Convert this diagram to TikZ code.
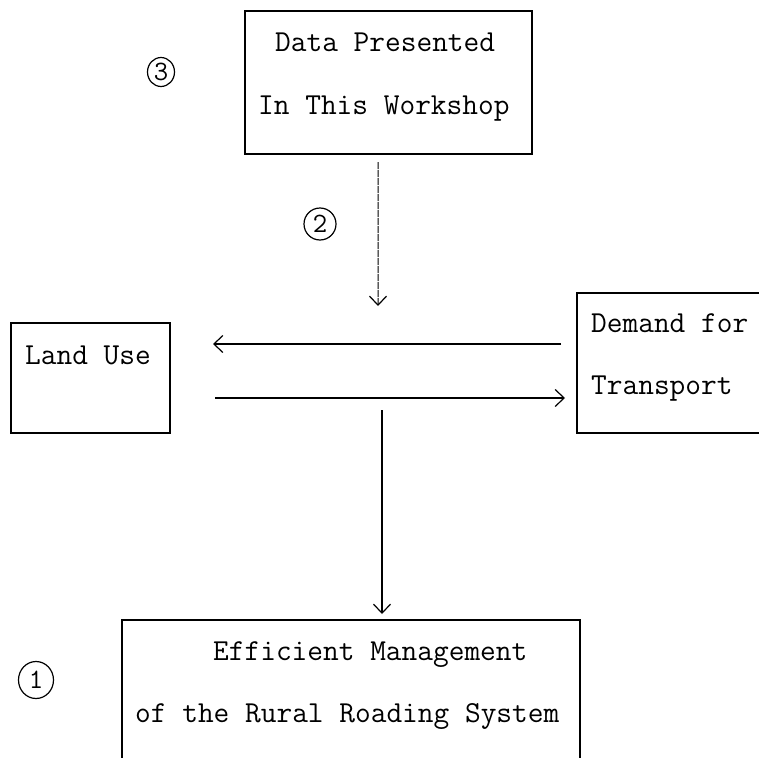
\documentclass[tikz,border=0pt]{standalone}
\usepackage{fontspec}
\usetikzlibrary{arrows.meta,shapes.geometric}
\begin{document}
\begin{tikzpicture}[x=1bp,y=-1bp,
  frame/.style={draw, line width=1.8bp, inner sep=0pt, outer sep=0pt},
  txt/.style={font=\ttfamily\fontsize{30.5bp}{32bp}\selectfont, anchor=base west, inner sep=0pt},
  barb/.style={-{Straight Barb[length=9bp,width=17bp,line width=1.2bp]}},
  flow/.style={barb, line width=2bp},
  feed/.style={barb, line width=1.3bp},
  hint/.style={barb, line width=1bp, dash pattern=on 7bp off 1bp},
  num/.style={draw, ellipse, line width=1.2bp, inner sep=0pt,
    font=\ttfamily\fontsize{28bp}{28bp}\selectfont},
]
\useasboundingbox (0,0) rectangle (759,758);
\clip (0,0) rectangle (759,758);

% boxes
\node[frame, minimum width=287bp, minimum height=143bp] (data) at (388.5,82.5) {};
\node[frame, minimum width=159bp, minimum height=110bp] (land) at (90.5,378) {};
\node[frame, minimum width=223bp, minimum height=140bp] (demand) at (688.5,363) {};
\node[frame, minimum width=458bp, minimum height=180bp] (manage) at (351,710) {};

% box texts
\node[txt] (data1) at (275,52) {Data Presented};
\node[txt] (data2) at (258,114) {In This Workshop};
\node[txt] (land1) at (25,364) {Land Use};
\node[txt] (dem1) at (591,332) {Demand for};
\node[txt] (dem2) at (591,394) {Transport};
\node[txt] (man1) at (213,660) {Efficient Management};
\node[txt] (man2) at (135,722) {of the Rural Roading System};

% numbered markers
\node[num, minimum width=27bp, minimum height=29bp] (n3) at (161,72) {3};
\node[num, minimum width=32bp, minimum height=32bp] (n2) at (320,224) {2};
\node[num, minimum width=35bp, minimum height=37bp] (n1) at (36,680) {1};

% arrow end points
\coordinate (dataout) at ([xshift=-10.5bp,yshift=-8bp]data.south);
\coordinate (meet) at (378,306);
\coordinate (demout) at (561,344);
\coordinate (landin) at (213,344);
\coordinate (landout) at (215,398);
\coordinate (demin) at (565,398);
\coordinate (midout) at (382,410);
\coordinate (manin) at (382,614);

% connectors
\draw[hint] (dataout) -- (meet);
\draw[flow] (demout) -- (landin);
\draw[flow] (landout) -- (demin);
\draw[feed] (midout) -- (manin);
\end{tikzpicture}
\end{document}
